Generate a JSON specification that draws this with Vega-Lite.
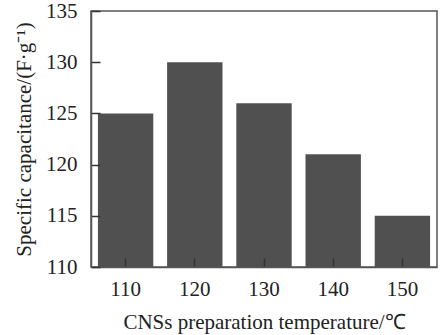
{
  "$schema": "https://vega.github.io/schema/vega-lite/v6.json",
  "autosize": {"type": "none"},
  "padding": {"left": 91, "top": 11, "right": 8, "bottom": 68},
  "width": 346,
  "height": 256,
  "background": "white",
  "config": {
    "view": {"stroke": "#555555", "strokeWidth": 1.5},
    "font": "Liberation Serif",
    "axis": {
      "labelFont": "Liberation Serif",
      "titleFont": "Liberation Serif",
      "labelFontSize": 21,
      "titleFontSize": 21,
      "titleFontWeight": "normal",
      "labelColor": "#222222",
      "titleColor": "#222222",
      "domainColor": "#555555",
      "domainWidth": 1.5,
      "tickColor": "#333333",
      "tickWidth": 1.5,
      "grid": false
    }
  },
  "data": {
    "values": [
      {"temp": "110", "cap": 125},
      {"temp": "120", "cap": 130},
      {"temp": "130", "cap": 126},
      {"temp": "140", "cap": 121},
      {"temp": "150", "cap": 115}
    ]
  },
  "mark": {"type": "bar", "color": "#505050"},
  "encoding": {
    "x": {
      "field": "temp",
      "type": "nominal",
      "sort": null,
      "scale": {"paddingInner": 0.2, "paddingOuter": 0.1},
      "axis": {
        "title": "CNSs preparation temperature/℃",
        "labelAngle": 0,
        "tickSize": -9,
        "labelPadding": 20,
        "titlePadding": 12,
        "zindex": 1
      }
    },
    "y": {
      "field": "cap",
      "type": "quantitative",
      "scale": {"domain": [110, 135], "zero": false, "nice": false},
      "axis": {
        "title": "Specific capacitance/(F·g⁻¹)",
        "values": [110, 115, 120, 125, 130, 135],
        "tickSize": -9,
        "labelPadding": 23,
        "titlePadding": 11,
        "zindex": 1
      }
    },
    "y2": {"datum": 110}
  }
}
